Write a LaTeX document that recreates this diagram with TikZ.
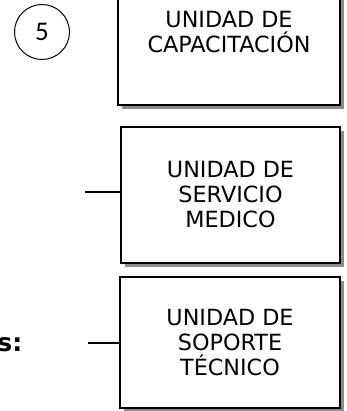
\documentclass[tikz,border=0pt]{standalone}
\usepackage{fontspec}
\setmainfont{DejaVu Sans}
\newfontfamily\numfont{Carlito}
\usetikzlibrary{positioning,shadows}
\begin{document}
\begin{tikzpicture}[x=1pt,y=-1pt]
    \tikzstyle{unit} = [rectangle, draw, line width=1.5pt, fill=white, align=center,
        font=\fontsize{22.3}{25}\selectfont, inner sep=0pt,
        drop shadow={shadow xshift=4pt, shadow yshift=-4pt, fill=black!45, opacity=1}]
    \tikzstyle{num} = [circle, draw, line width=1pt, minimum size=55pt, inner sep=0pt,
        font=\numfont\fontsize{27}{27}\selectfont]
    \tikzstyle{link} = [-, line width=1.2pt]
        \clip (0,0) rectangle (346,411);
        % number
        \node[num] (five) at (42,32) {5};
        % boxes
        \node[unit, minimum width=222pt, minimum height=120pt] (capac) at (229,45)
            {UNIDAD DE\\CAPACITACIÓN\\[2pt]~};
        \node[unit, minimum width=219pt, minimum height=136pt] (medico) at (230.5,195)
            {UNIDAD DE\\SERVICIO\\MEDICO};
        \node[unit, minimum width=220pt, minimum height=131pt] (soporte) at (230,342.5)
            {UNIDAD DE\\SOPORTE\\TÉCNICO};
        % connectors
        \coordinate (m0) at (85,192);
        \coordinate (s0) at (88,343);
        \draw[link] (m0) -- (m0 -| medico.west);
        \draw[link] (s0) -- (s0 -| soporte.west);
        % cut label
        \node[anchor=east, font=\bfseries\fontsize{25}{25}\selectfont, inner sep=0pt] (lbl) at (22.5,345) {s:};
\end{tikzpicture}
\end{document}
